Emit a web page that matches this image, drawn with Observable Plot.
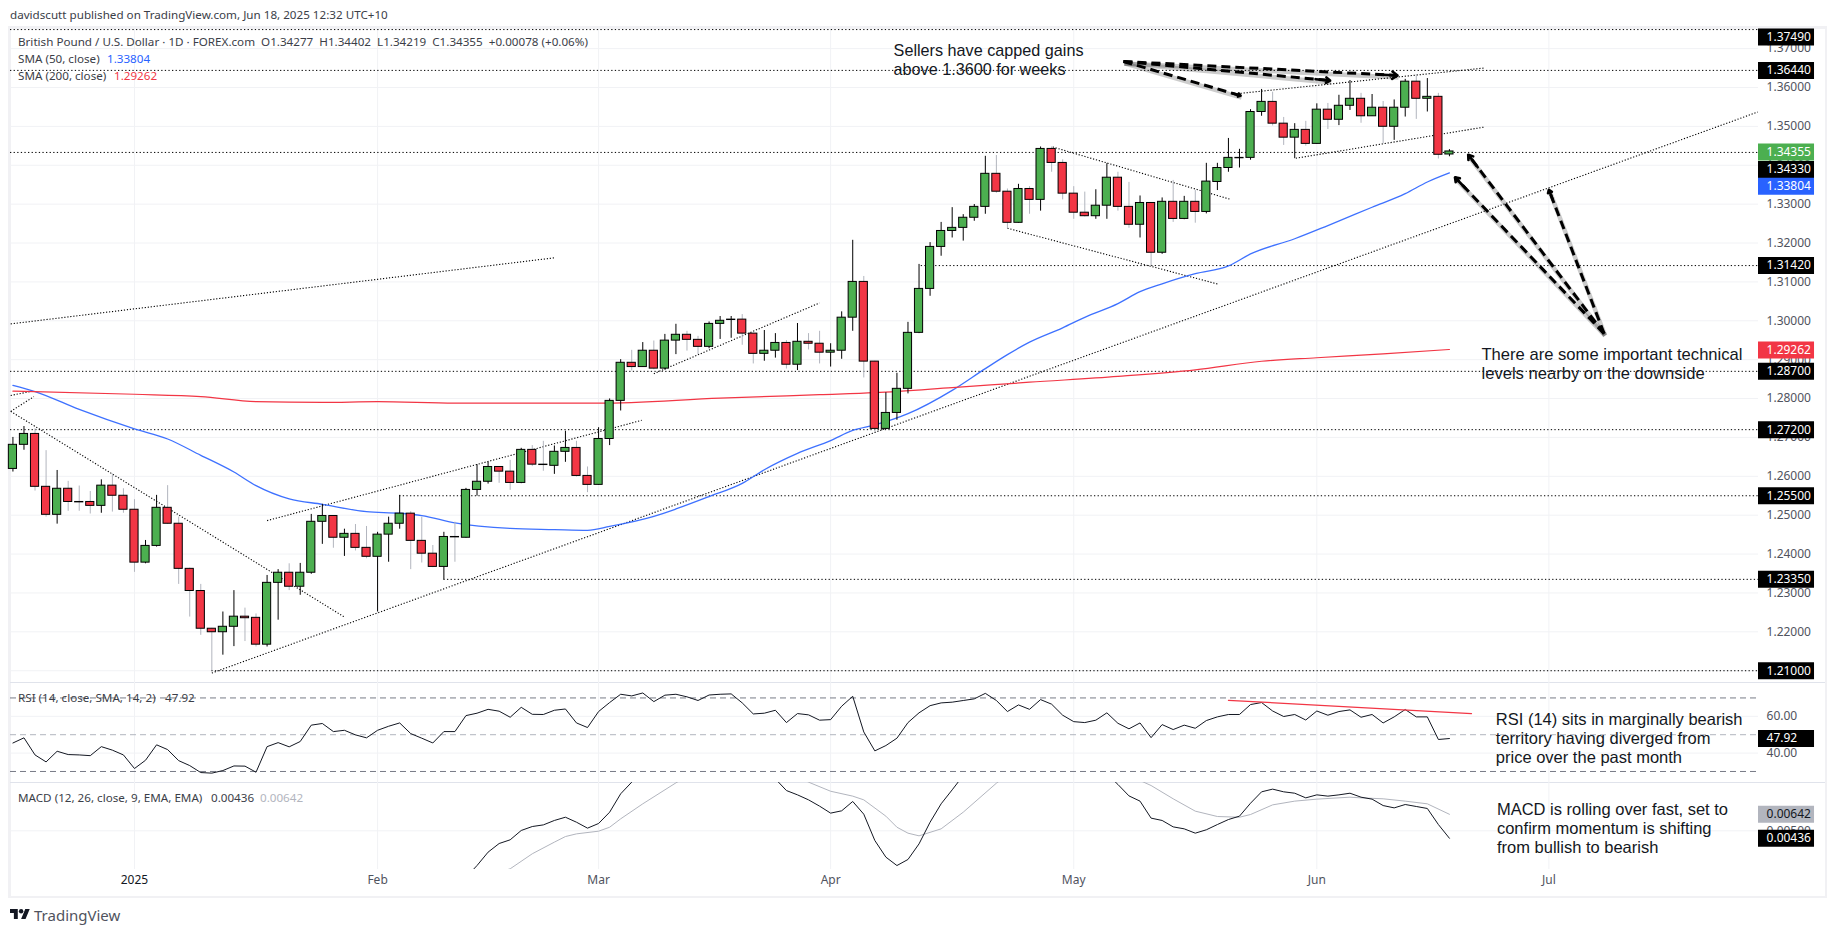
<!DOCTYPE html>
<html><head><meta charset="utf-8">
<script src="https://cdn.jsdelivr.net/npm/d3@7"></script>
<script src="https://cdn.jsdelivr.net/npm/@observablehq/plot@0.6"></script>
<style>
html,body{margin:0;padding:0;background:#fff;overflow:hidden}
#root{position:relative;width:1835px;height:932px;overflow:hidden;font-family:"Noto Sans",sans-serif;color:#131722}
#root svg.p{position:absolute;left:0}
.lab{position:absolute;white-space:pre;font-size:11.65px;line-height:16px;color:#3b3e48}
.box{position:absolute;box-sizing:border-box}
</style></head><body><div id="root"></div>
<script>
// ---- bar numbering: 0 is the first session of 2025 (2 Jan)
const firstBar = -11;
const barOpen = [
1.2619,1.2681,1.2709,1.2573,1.2501,1.2568,1.2534,1.2534,1.2524,1.2576,
1.2550,1.2514,1.2378,1.2421,1.2519,1.2478,1.2362,1.2305,1.2208,1.2199,
1.2213,1.2239,1.2236,1.2167,1.2326,1.2352,1.2316,1.2352,1.2483,1.2498,
1.2442,1.2452,1.2416,1.2393,1.2450,1.2478,1.2504,1.2434,1.2401,1.2367,
1.2444,1.2442,1.2565,1.2586,1.2624,1.2612,1.2583,1.2668,1.2630,1.2627,
1.2663,1.2673,1.2601,1.2578,1.2696,1.2794,1.2892,1.2881,1.2923,1.2877,
1.2949,1.2964,1.2951,1.2933,1.2992,1.3002,1.3003,1.2967,1.2915,1.2923,
1.2943,1.2887,1.2946,1.2941,1.2918,1.2923,1.3008,1.3100,1.2895,1.2722,
1.2763,1.2825,1.2969,1.3082,1.3190,1.3231,1.3239,1.3265,1.3293,1.3378,
1.3332,1.3252,1.3339,1.3311,1.3442,1.3406,1.3327,1.3278,1.3269,1.3296,
1.3368,1.3293,1.3247,1.3303,1.3175,1.3306,1.3262,1.3306,1.3280,1.3357,
1.3393,1.3418,1.3419,1.3537,1.3563,1.3507,1.3471,1.3491,1.3455,1.3543,
1.3517,1.3553,1.3571,1.3526,1.3548,1.3499,1.3548,1.3615,1.3571,1.3576,
1.34277];
const barHigh = [
1.2700,1.2728,1.2722,1.2666,1.2615,1.2587,1.2575,1.2561,1.2591,1.2606,
1.2568,1.2540,1.2435,1.2551,1.2576,1.2495,1.2364,1.2322,1.2209,1.2251,
1.2306,1.2261,1.2246,1.2345,1.2360,1.2375,1.2376,1.2502,1.2528,1.2498,
1.2464,1.2476,1.2471,1.2456,1.2495,1.2551,1.2509,1.2495,1.2422,1.2456,
1.2482,1.2569,1.2630,1.2636,1.2625,1.2641,1.2672,1.2679,1.2690,1.2678,
1.2716,1.2690,1.2624,1.2725,1.2799,1.2900,1.2924,1.2944,1.2948,1.2965,
1.2991,1.2973,1.2960,1.2997,1.3011,1.3011,1.3016,1.2968,1.2975,1.2967,
1.2949,1.2993,1.2967,1.2973,1.2941,1.3023,1.3207,1.3114,1.2896,1.2815,
1.2865,1.2996,1.3145,1.3201,1.3253,1.3291,1.3273,1.3299,1.3423,1.3425,
1.3339,1.3351,1.3345,1.3447,1.3447,1.3414,1.3345,1.3331,1.3337,1.3404,
1.3382,1.3356,1.3321,1.3304,1.3316,1.3361,1.3320,1.3335,1.3405,1.3405,
1.3469,1.3441,1.3543,1.3595,1.3588,1.3523,1.3507,1.3513,1.3558,1.3559,
1.3580,1.3618,1.3585,1.3582,1.3564,1.3568,1.3621,1.3633,1.3623,1.3585,
1.34402];
const barLow = [
1.2611,1.2667,1.2562,1.2495,1.2477,1.2510,1.2510,1.2503,1.2505,1.2508,
1.2505,1.2353,1.2375,1.2418,1.2476,1.2322,1.2238,1.2191,1.2100,1.2140,
1.2162,1.2175,1.2161,1.2161,1.2230,1.2306,1.2294,1.2348,1.2425,1.2415,
1.2394,1.2408,1.2388,1.2251,1.2379,1.2464,1.2360,1.2377,1.2365,1.2334,
1.2379,1.2441,1.2549,1.2580,1.2582,1.2564,1.2581,1.2625,1.2613,1.2605,
1.2636,1.2598,1.2558,1.2577,1.2679,1.2768,1.2871,1.2880,1.2874,1.2873,
1.2913,1.2922,1.2913,1.2928,1.2952,1.2955,1.2937,1.2889,1.2896,1.2904,
1.2876,1.2872,1.2925,1.2889,1.2881,1.2901,1.2973,1.2853,1.2714,1.2721,
1.2744,1.2812,1.2967,1.3063,1.3166,1.3213,1.3205,1.3256,1.3274,1.3328,
1.3237,1.3251,1.3274,1.3282,1.3382,1.3311,1.3261,1.3267,1.3261,1.3261,
1.3282,1.3238,1.3213,1.3142,1.3171,1.3253,1.3260,1.3251,1.3275,1.3335,
1.3382,1.3393,1.3413,1.3526,1.3501,1.3451,1.3417,1.3449,1.3454,1.3492,
1.3502,1.3541,1.3508,1.3526,1.3455,1.3464,1.3524,1.3518,1.3537,1.3416,
1.34219];
const barClose = [
1.2681,1.2709,1.2573,1.2501,1.2568,1.2534,1.2533,1.2524,1.2576,1.2550,
1.2514,1.2378,1.2421,1.2519,1.2478,1.2362,1.2305,1.2208,1.2199,1.2213,
1.2239,1.2235,1.2167,1.2326,1.2352,1.2316,1.2352,1.2483,1.2498,1.2442,
1.2452,1.2416,1.2393,1.2450,1.2478,1.2504,1.2434,1.2401,1.2367,1.2444,
1.2443,1.2565,1.2586,1.2624,1.2612,1.2583,1.2668,1.2630,1.2629,1.2663,
1.2673,1.2601,1.2578,1.2696,1.2794,1.2892,1.2881,1.2923,1.2877,1.2949,
1.2964,1.2951,1.2933,1.2992,1.3000,1.3003,1.2967,1.2915,1.2923,1.2943,
1.2887,1.2946,1.2941,1.2918,1.2923,1.3008,1.3100,1.2895,1.2722,1.2763,
1.2825,1.2969,1.3082,1.3190,1.3231,1.3239,1.3265,1.3293,1.3378,1.3332,
1.3252,1.3339,1.3311,1.3442,1.3406,1.3327,1.3278,1.3269,1.3296,1.3368,
1.3293,1.3247,1.3303,1.3175,1.3306,1.3262,1.3306,1.3280,1.3358,1.3393,
1.3419,1.3419,1.3537,1.3563,1.3507,1.3471,1.3491,1.3455,1.3543,1.3517,
1.3553,1.3571,1.3526,1.3548,1.3499,1.3548,1.3615,1.3571,1.3576,1.3427,
1.34355];

const sma50Bar = [-11,-9,-5,0,3,6,9,11,14,17,21,24,26,29,34,38,41,43,47,49,52,55,57,60,63,65,67,70,74,77,79,81,84,86,89,91,93,96,99,101,105,108,112,115,117,119];
const sma50Val = [1.2834,1.2818,1.2772,1.2722,1.2696,1.2654,1.2611,1.2576,1.2542,1.2528,1.2509,1.2505,1.2499,1.2480,1.2466,1.2463,1.2461,1.2471,1.2497,1.2516,1.2548,1.2582,1.2617,1.2659,1.2692,1.2718,1.2732,1.2761,1.2821,1.2877,1.2913,1.2945,1.2982,1.3009,1.3044,1.3075,1.3095,1.3121,1.3141,1.3172,1.3211,1.3245,1.3292,1.3327,1.3357,1.33804];
const sma200Bar = [-11,0,6,11,17,22,29,42,53,62,67,74,81,89,96,102,107,113,119];
const sma200Val = [1.2819,1.2811,1.2805,1.2792,1.2790,1.2792,1.2788,1.2788,1.2801,1.2810,1.2815,1.2828,1.2842,1.2857,1.2874,1.2896,1.2905,1.2915,1.29262];

const levelPrice = [1.3749,1.3644,1.3433,1.3142,1.2870,1.2720,1.2550,1.2335,1.2100];
const levelFromBar = [-11.22,-11.22,-11.22,71.2,-11.22,-11.22,24,28,7];

const trendBar1 = [-11.2,7,-11.2,-11.2,-11.2,12,47,83.1,79,100.1,105.1];
const trendVal1 = [1.2992,1.2094,1.2767,1.2808,1.2767,1.2486,1.2864,1.3447,1.3238,1.3585,1.3418];
const trendBar2 = [38,146.9,19,-9.4,-9.1,45.9,62,99.1,98.1,122.1,122.1];
const trendVal2 = [1.3162,1.3537,1.2238,1.2818,1.2805,1.2744,1.3046,1.3313,1.3094,1.3650,1.3498];

const arrowBar1 = [89.5,89.5,89.5,133,133,133];
const arrowVal1 = [1.3667,1.3667,1.3667,1.2967,1.2967,1.2967];
const arrowBar2 = [100.1,108.2,114.3,120.7,119.5,128];
const arrowVal2 = [1.3579,1.3618,1.3631,1.3427,1.3369,1.3337];

const priceTicks = [1.21,1.22,1.23,1.24,1.25,1.26,1.27,1.28,1.29,1.30,1.31,1.32,1.33,1.34,1.35,1.36,1.37];
const tagText  = ["1.37490","1.36440","1.34355","1.34330","1.33804","1.31420","1.29262","1.28700","1.27200","1.25500","1.23350","1.21000"];
const tagSpot  = [1.3730,1.3644,1.3434,1.3389,1.3346,1.3142,1.2925,1.2870,1.2720,1.2550,1.2335,1.2100];
const tagFill  = ["#000","#000","#4caf50","#000","#2962ff","#000","#f23645","#000","#000","#000","#000","#000"];

const rsiVal = [
45.5,48.3,39.0,35.2,41.0,39.2,39.0,38.6,43.5,41.6,39.0,31.6,36.1,44.5,41.9,35.9,33.2,29.4,29.1,30.5,33.0,32.9,29.6,43.5,45.7,43.4,46.3,55.2,56.1,51.7,52.4,49.9,48.3,52.4,54.6,56.4,50.6,48.1,45.5,51.7,51.7,60.4,61.7,63.8,62.8,59.5,64.9,61.1,61.0,63.3,64.0,56.4,53.9,62.6,67.5,72.0,71.1,72.7,68.0,71.5,72.0,70.6,68.6,
71.6,72.0,72.2,67.3,61.3,61.7,63.3,56.6,61.5,60.8,57.9,58.2,65.5,70.9,51.5,41.2,44.1,48.1,56.6,61.9,65.8,67.3,67.7,68.6,69.5,72.5,68.6,62.6,66.2,63.8,69.1,66.6,60.6,57.1,56.6,57.9,61.9,56.2,53.2,56.4,48.4,55.5,52.8,55.2,53.5,57.7,59.7,61.0,61.0,66.4,67.5,62.9,59.9,61.0,58.0,62.9,60.6,62.6,63.5,59.5,61.0,56.4,59.7,63.7,59.7,59.7,47.4,47.92];
const rsiLevels = [70,50,30];
const rsiTicks = [60,40];
const rsiTrendBar = [99,121];
const rsiTrendVal = [68.7,61.5];

// MACD leaves the pane twice; the hidden stretches are not read
const macdBar = [30,31,32,33,34,35,36,37,38,39,40,41,42,43,44,45,46,
 57,58,59,60,61,62,63,64,65,66,67,68,69,70,71,72,73,74,75,
 88,89,90,91,92,93,94,95,96,97,98,99,100,101,102,103,104,105,106,107,108,109,110,111,112,113,114,115,116,117,118,119];
const macdVal = [.00102,.00202,.00317,.00391,.00423,.00503,.00537,.00551,.00589,.00617,.00574,.00523,.00563,.00660,.00818,.00918,.01046,
 .01046,.00946,.00846,.00809,.00766,.00712,.00652,.00672,.00752,.00643,.00417,.00274,.00202,.00254,.00388,.00574,.00732,.00852,.00975,
 .00989,.00898,.00800,.00755,.00609,.00589,.00534,.00517,.00480,.00509,.00554,.00597,.00626,.00737,.00835,.00858,.00835,.00823,.00783,.00809,.00798,.00809,.00823,.00789,.00772,.00717,.00697,.00726,.00709,.00692,.00554,.00436];
const macdRun = [0,17,36];
const signalBar = [32,34,36,38,39,40,42,43,44,46,49,51,
 59,61,63,65,66,68,69,70,71,73,75,78,80,
 89,92,94,96,98,100,101,103,105,107,110,111,113,115,117,119];
const signalVal = [.00117,.00174,.00303,.00403,.00451,.00474,.00497,.00531,.00603,.00732,.00912,.01018,
 .01018,.00918,.00840,.00798,.00766,.00626,.00531,.00480,.00457,.00517,.00660,.00909,.01046,
 .01018,.00889,.00775,.00669,.00623,.00617,.00640,.00723,.00755,.00772,.00789,.00783,.00775,.00755,.00732,.00642];
const signalRun = [0,12,25];
const macdTick = [0.005];

const monthBar = [0,22,42,63,85,107,128];
const monthName = ["2025","Feb","Mar","Apr","May","Jun","Jul"];

const priceNotes = ["Sellers have capped gains","above 1.3600 for weeks","There are some important technical","levels nearby on the downside"];
const priceNoteBar = [68.7,68.7,121.9,121.9];
const priceNoteVal = [1.3695,1.3646,1.2913,1.2864];
const priceNoteSize = [16.2,16.2,16.6,16.6];
const rsiNotes = ["RSI (14) sits in marginally bearish","territory having diverged from","price over the past month"];
const rsiNoteVal = [58.2,48,37.7];
const macdNotes = ["MACD is rolling over fast, set to","confirm momentum is shifting","from bullish to bearish"];
const macdNoteVal = [.0068,.00517,.00357];

// ---- shared geometry
const root = document.getElementById("root");
const W = 1835;
const xDom = [-11.22,146.97], xRange = [10,1758];
const gridC = "#f1f2f5", inkTick = "#50535e", sansNote = "'Liberation Sans',Arial,sans-serif", axisFont = "'Noto Sans',sans-serif";
const tagEnd = 152.04, labBar = 147.7;
const base = {width:W, marginLeft:0, marginRight:0, marginTop:0, marginBottom:0,
  x:{axis:null, domain:xDom, range:xRange},
  style:{background:"transparent", overflow:"visible", fontFamily:axisFont}};

const bars = barOpen.map((o,i)=>({i:i+firstBar,o,h:barHigh[i],l:barLow[i],c:barClose[i]}));
const pair = (xs,ys)=>xs.map((x,k)=>({x,y:ys[k]}));
const runs = (xs,ys,starts)=>xs.map((x,k)=>({x,y:ys[k],run:d3.bisectRight(starts,k)}));
const gridV = Plot.ruleX(monthBar,{stroke:gridC,strokeWidth:1});
function place(svg,top){svg.setAttribute("class",(svg.getAttribute("class")||"")+" p");svg.style.position="absolute";svg.style.left="0";svg.style.top=top+"px";svg.style.maxWidth="none";root.appendChild(svg);}
function tags(data){return [
  Plot.ruleY(data,{x1:xDom[1],x2:tagEnd,y:"y",stroke:"c",strokeWidth:17}),
  Plot.text(data,{x:labBar,y:"y",text:"t",fill:d=>d.ink||"#fff",textAnchor:"start",fontSize:12,fontWeight:d=>d.ink?400:600})
];}
function box(l,t,w,h,c){const d=document.createElement("div");d.className="box";d.style.cssText=`left:${l}px;top:${t}px;width:${w}px;height:${h}px;background:${c}`;root.appendChild(d);}
function lab(l,t,html,extra){const d=document.createElement("div");d.className="lab";d.style.cssText=`left:${l}px;top:${t-8}px;${extra||""}`;d.innerHTML=html;root.appendChild(d);}

// frame
box(8,26,1819,3,"#f1f1f4"); box(8,26,2.5,872,"#f1f1f4"); box(1824.5,26,2.5,872,"#f1f1f4"); box(8,895.5,1819,2.5,"#f1f1f4");
box(10,681.5,1815,1.5,"#e0e3eb"); box(10,781.5,1815,1.5,"#e0e3eb");

// ---- price pane
const trends = trendBar1.map((b,k)=>({x1:b,y1:trendVal1[k],x2:trendBar2[k],y2:trendVal2[k]}));
const arrows = arrowBar1.map((b,k)=>({x1:b,y1:arrowVal1[k],x2:arrowBar2[k],y2:arrowVal2[k]}));
const heads = arrows.map(a=>({x1:a.x1+(a.x2-a.x1)*0.93,y1:a.y1+(a.y2-a.y1)*0.93,x2:a.x2,y2:a.y2}));
const up = bars.filter(b=>b.c>=b.o), down = bars.filter(b=>b.c<b.o);
const candle = (d,fill)=>Plot.rect(d,{x1:b=>b.i-0.37,x2:b=>b.i+0.37,y1:"o",y2:"c",fill,stroke:"#000",strokeWidth:1,clip:true});
const priceTags = tagText.map((t,k)=>({t,y:tagSpot[k],c:tagFill[k]}));

const mainPlot = Plot.plot({...base, height:656,
  y:{axis:null, domain:[1.20697,1.37569], range:[656,0]},
  marks:[
    gridV,
    Plot.ruleY(priceTicks,{x1:xDom[0],x2:xDom[1],stroke:gridC,strokeWidth:1}),
    Plot.link(trends,{x1:"x1",y1:"y1",x2:"x2",y2:"y2",stroke:"#000",strokeWidth:1.1,strokeDasharray:"1.2,1.8",clip:true}),
    Plot.ruleY(levelPrice,{x1:(d,i)=>levelFromBar[i],x2:xDom[1],stroke:"#000",strokeWidth:1,strokeDasharray:"1.3,2.3"}),
    Plot.line(pair(sma50Bar,sma50Val),{x:"x",y:"y",stroke:"#2962ff",strokeWidth:1.3,strokeOpacity:.9,curve:"monotone-x",clip:true}),
    Plot.line(pair(sma200Bar,sma200Val),{x:"x",y:"y",stroke:"#f23645",strokeWidth:1.2,curve:"monotone-x",clip:true}),
    Plot.ruleX(bars,{x:"i",y1:"l",y2:"h",stroke:b=>b.c<b.o?"#b2b5be":"#000",strokeWidth:1,clip:true}),
    candle(up,"#4caf50"), candle(down,"#f23645"),
    Plot.link(arrows,{x1:"x1",y1:"y1",x2:"x2",y2:"y2",stroke:"#000",strokeOpacity:.2,strokeWidth:4.5,dx:1,dy:2}),
    Plot.link(arrows,{x1:"x1",y1:"y1",x2:"x2",y2:"y2",stroke:"#000",strokeWidth:3,strokeDasharray:"9,5"}),
    Plot.arrow(heads,{x1:"x1",y1:"y1",x2:"x2",y2:"y2",stroke:"#000",strokeWidth:2.6,headLength:9,headAngle:70,bend:0}),
    Plot.text(priceNotes,{x:(d,i)=>priceNoteBar[i],y:(d,i)=>priceNoteVal[i],text:d=>d,textAnchor:"start",fontFamily:sansNote,fontSize:(d,i)=>priceNoteSize[i],fill:"#131722"}),
    Plot.text(priceTicks,{x:labBar,y:d=>d,text:d=>d.toFixed(5),textAnchor:"start",fontSize:12,fill:inkTick}),
    ...tags(priceTags)
  ]});
place(mainPlot,26);

// ---- RSI pane
const rsiTags=[{t:"47.92",y:47.92,c:"#000"}];
const rsiPlot = Plot.plot({...base, height:100,
  y:{axis:null, domain:[24.0,78.4], range:[100,0]},
  marks:[
    gridV,
    Plot.ruleY(rsiTicks,{x1:xDom[0],x2:xDom[1],stroke:gridC,strokeWidth:1}),
    Plot.ruleY(rsiLevels,{x1:xDom[0],x2:xDom[1],stroke:d=>d===50?"#b2b5be":"#787b86",strokeWidth:1,strokeDasharray:"6,4"}),
    Plot.line(rsiVal.map((y,k)=>({x:k+firstBar,y})),{x:"x",y:"y",stroke:"#131722",strokeWidth:1,clip:true}),
    Plot.line(pair(rsiTrendBar,rsiTrendVal),{x:"x",y:"y",stroke:"#f23645",strokeWidth:1.2}),
    Plot.text(rsiNotes,{x:123.2,y:(d,i)=>rsiNoteVal[i],text:d=>d,textAnchor:"start",fontFamily:sansNote,fontSize:16.5,fill:"#131722"}),
    Plot.text(rsiTicks,{x:labBar,y:d=>d,text:d=>d.toFixed(2),textAnchor:"start",fontSize:12,fill:inkTick}),
    ...tags(rsiTags)
  ]});
place(rsiPlot,682);

// ---- MACD pane and time axis
const macdTags=[{t:"0.00642",y:.00642,c:"#b2b5be",ink:"#131722"},{t:"0.00436",y:.00436,c:"#000"}];
const macdPlot = Plot.plot({...base, height:114, marginBottom:27,
  y:{axis:null, domain:[.00168,.00915], range:[87,0]},
  marks:[
    gridV,
    Plot.ruleY(macdTick,{x1:xDom[0],x2:xDom[1],stroke:gridC,strokeWidth:1}),
    Plot.line(runs(signalBar,signalVal,signalRun),{x:"x",y:"y",z:"run",stroke:"#b2b5be",strokeWidth:1,clip:true}),
    Plot.line(runs(macdBar,macdVal,macdRun),{x:"x",y:"y",z:"run",stroke:"#131722",strokeWidth:1,clip:true}),
    Plot.text(macdNotes,{x:123.3,y:(d,i)=>macdNoteVal[i],text:d=>d,textAnchor:"start",fontFamily:sansNote,fontSize:16.5,fill:"#131722"}),
    Plot.text(macdTick,{x:labBar,y:d=>d,text:d=>d.toFixed(5),textAnchor:"start",fontSize:12,fill:inkTick}),
    ...tags(macdTags),
    Plot.text(monthBar,{x:d=>d,frameAnchor:"bottom",dy:14,text:(d,i)=>monthName[i],fontSize:12,fill:(d,i)=>i===0?"#131722":inkTick,fontWeight:(d,i)=>i===0?600:400})
  ]});
place(macdPlot,782);

// ---- header, legends, brand
lab(10,15,"davidscutt published on TradingView.com, Jun 18, 2025 12:32 UTC+10");
lab(18,42,"British Pound / U.S. Dollar · 1D · FOREX.com&nbsp;&nbsp;O1.34277&nbsp;&nbsp;H1.34402&nbsp;&nbsp;L1.34219&nbsp;&nbsp;C1.34355&nbsp;&nbsp;+0.00078 (+0.06%)");
lab(18,59,"SMA (50, close)"); lab(107,59,"1.33804","color:#2962ff");
lab(18,76,"SMA (200, close)"); lab(114,76,"1.29262","color:#f23645");
lab(18,698,"RSI (14, close, SMA, 14, 2)"); lab(165,698,"47.92");
lab(18,798,"MACD (12, 26, close, 9, EMA, EMA)"); lab(211,798,"0.00436"); lab(260,798,"0.00642","color:#b2b5be");
const logo=document.createElement("div");logo.style.cssText="position:absolute;left:10px;top:909px;width:20px;height:10px";
logo.innerHTML='<svg viewBox="0 4 36 18" width="20" height="10" preserveAspectRatio="none" style="display:block"><path fill="#131722" d="M14 22H7V11H0V4h14v18zM28 22h-8l7.5-18h8L28 22z"/><circle cx="20" cy="8" r="4" fill="#131722"/></svg>';root.appendChild(logo);
lab(34,915,"TradingView","font-size:15px;color:#50535e");
</script></body></html>
